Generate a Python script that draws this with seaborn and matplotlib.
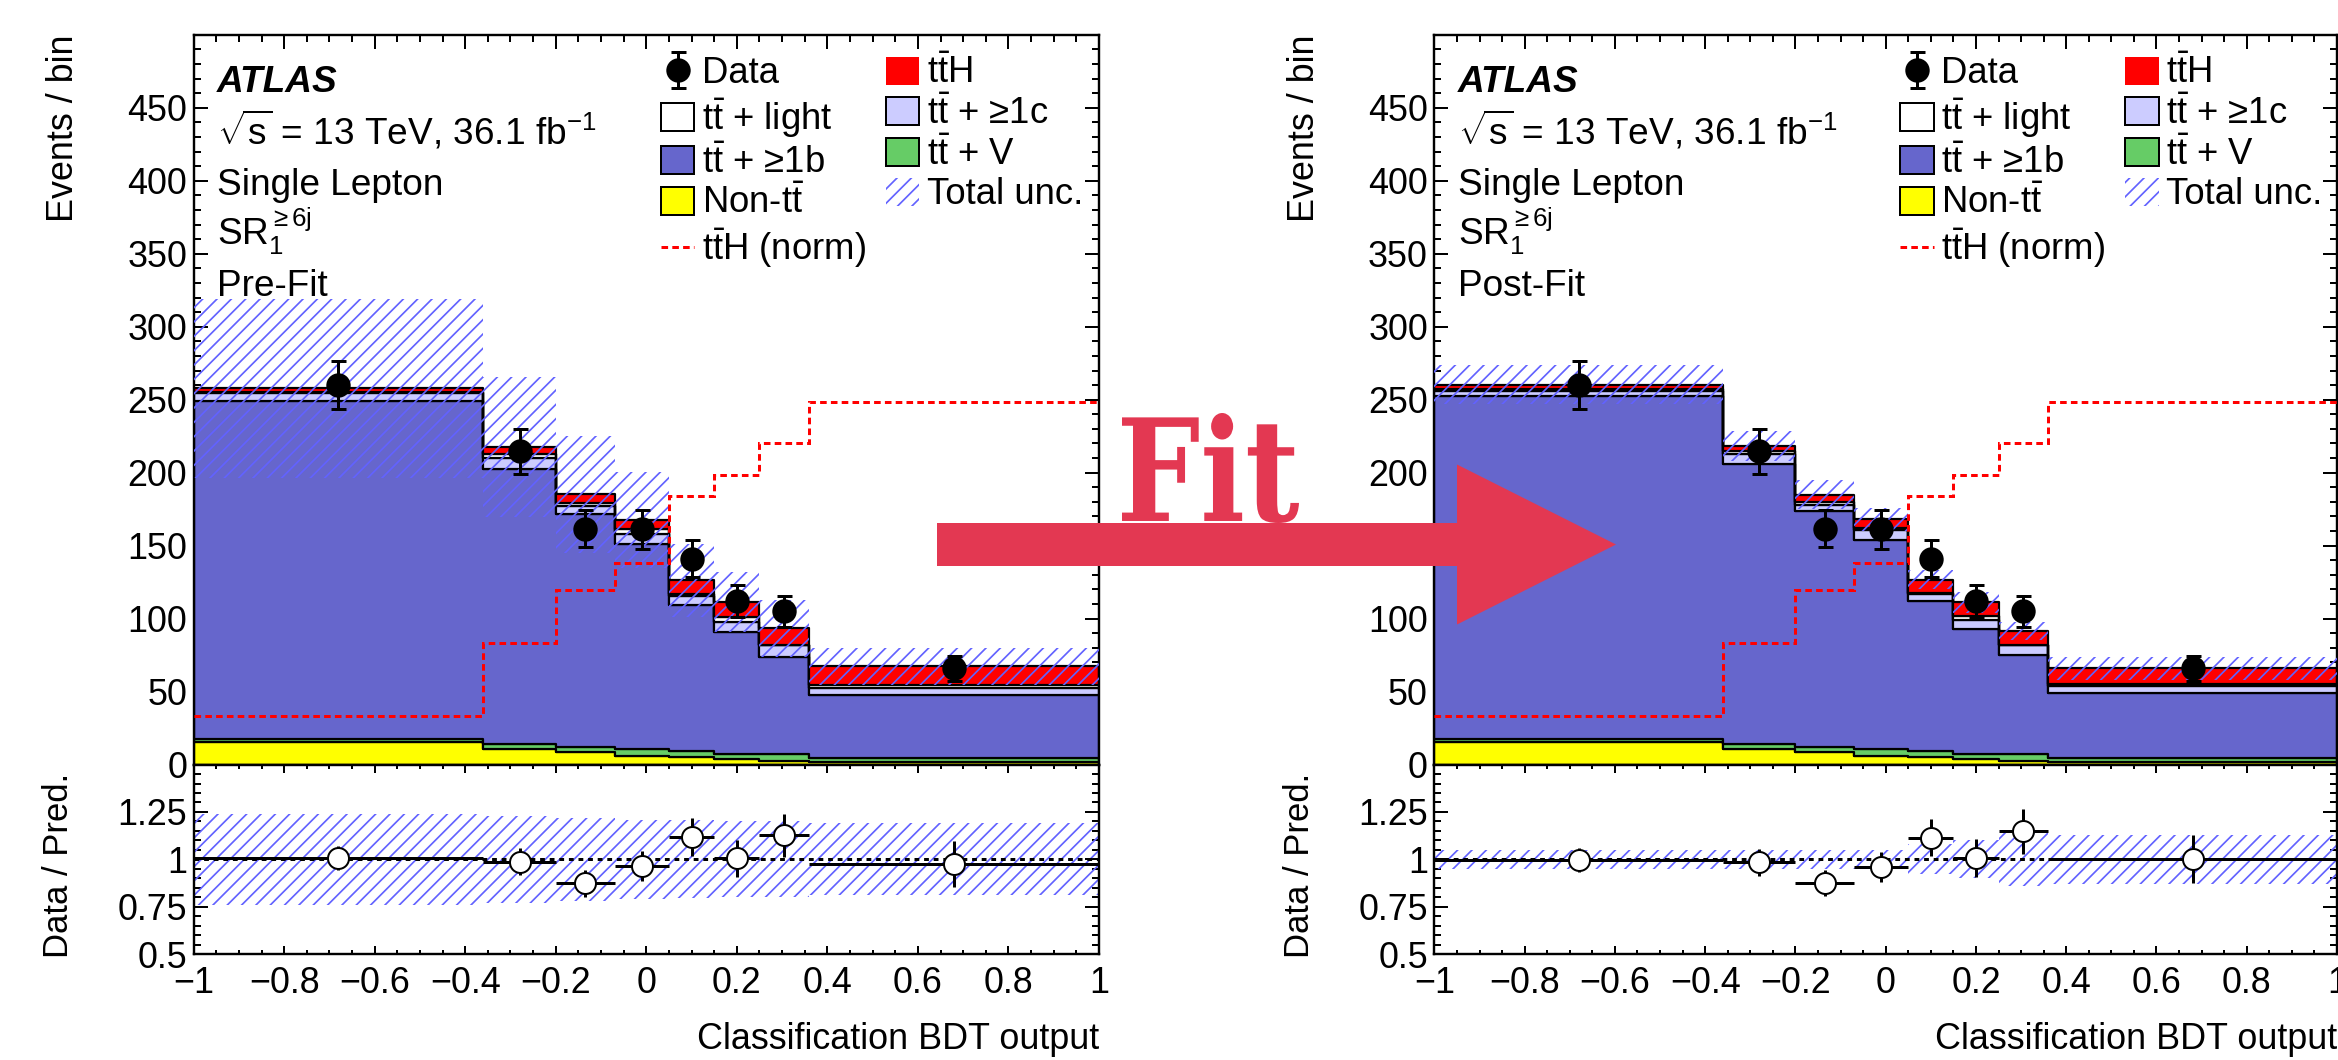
import numpy as np
import pandas as pd
import matplotlib
matplotlib.use("Agg")
import matplotlib.pyplot as plt
import seaborn as sns
from matplotlib.patches import Patch, FancyArrow, PathPatch
from matplotlib.lines import Line2D
from matplotlib.textpath import TextPath
from matplotlib.font_manager import FontProperties
from matplotlib.transforms import Affine2D
from matplotlib.ticker import MultipleLocator

# ---- binning (Classification BDT output) ----
bin_edges = [-1, -0.36, -0.2, -0.07, 0.05, 0.15, 0.25, 0.36, 1]

# ---- data (same in both panels) ----
data = [259.8, 214.8, 161.7, 161.2, 141.2, 112.0, 105.1, 65.9]
data_err = [16.5, 15.4, 12.9, 13.2, 12.4, 11.0, 10.7, 8.3]
tth_norm = [33.5, 83.4, 119.5, 138.4, 183.8, 198.6, 220.3, 248.1]

# ---- pre-fit yields ----
pre_nontt = [15.5, 10.9, 8.8, 6.1, 5.2, 3.6, 2.5, 1.8]
pre_ttv = [2.2, 3.4, 3.5, 4.6, 4.1, 3.9, 4.5, 2.9]
pre_tt1b = [231.1, 188.0, 159.2, 140.3, 99.9, 83.5, 66.4, 42.9]
pre_tt1c = [5.9, 8.0, 5.5, 7.3, 6.2, 6.8, 8.2, 5.0]
pre_ttlight = [0.9, 2.7, 2.0, 2.9, 1.3, 3.4, 0.4, 1.7]
pre_tth = [2.1, 4.5, 6.2, 6.2, 9.6, 10.3, 11.3, 13.2]
pre_unc = [61.5, 48.0, 40.0, 33.0, 25.0, 20.5, 19.8, 12.7]
pre_ratio_unc = [0.24, 0.23, 0.22, 0.21, 0.205, 0.20, 0.20, 0.19]

# ---- post-fit yields ----
post_nontt = [15.5, 10.9, 8.8, 6.1, 5.2, 3.6, 2.5, 1.8]
post_ttv = [2.2, 3.4, 3.5, 4.6, 4.1, 3.9, 4.5, 2.9]
post_tt1b = [235.0, 191.9, 161.2, 143.0, 102.9, 85.7, 68.0, 44.1]
post_tt1c = [3.3, 6.3, 4.6, 6.8, 5.0, 5.7, 6.6, 5.0]
post_ttlight = [1.3, 2.3, 1.8, 1.9, 0.7, 3.0, 0.5, 1.1]
post_tth = [3.1, 3.4, 5.1, 5.6, 8.9, 9.2, 9.5, 11.0]
post_unc = [13.6, 10.3, 9.7, 8.0, 6.8, 7.2, 6.2, 7.9]
post_ratio_unc = [0.05, 0.05, 0.05, 0.05, 0.08, 0.10, 0.14, 0.13]

xtick_vals = [-1, -0.8, -0.6, -0.4, -0.2, 0, 0.2, 0.4, 0.6, 0.8, 1]
xtick_labels = ["\u22121", "\u22120.8", "\u22120.6", "\u22120.4", "\u22120.2", "0",
                "0.2", "0.4", "0.6", "0.8", "1"]
ytick_vals = [0, 50, 100, 150, 200, 250, 300, 350, 400, 450]
rtick_vals = [0.5, 0.75, 1, 1.25]
rtick_labels = ["0.5", "0.75", "1", "1.25"]

TTH = r"$\mathrm{t\bar{t}H}$"
TT = r"$\mathrm{t\bar{t}}$"
names = {
    "tth": TTH,
    "light": TT + " + light",
    "tt1c": TT + " + \u22651c",
    "tt1b": TT + " + \u22651b",
    "ttv": TT + " + V",
    "nontt": r"Non-$\mathrm{t\bar{t}}$",
}
colors = {
    names["tth"]: "#ff0000",
    names["light"]: "#ffffff",
    names["tt1c"]: "#ccccff",
    names["tt1b"]: "#6666cc",
    names["ttv"]: "#66cc66",
    names["nontt"]: "#ffff00",
}
stack_order = [names[k] for k in ["tth", "light", "tt1c", "tt1b", "ttv", "nontt"]]
HATCH = "#6262ff"
ARROW = "#e33852"

DPI = 172
W, H = 2338, 1060


def pt(px):
    return px * 72 / DPI


sns.set_style("ticks", rc={"axes.edgecolor": "black", "text.color": "black",
                           "xtick.color": "black", "ytick.color": "black",
                           "axes.labelcolor": "black"})
plt.rcParams["font.family"] = ["Liberation Sans", "DejaVu Sans"]
plt.rcParams["mathtext.fontset"] = "custom"
plt.rcParams["mathtext.rm"] = "Liberation Sans"
plt.rcParams["mathtext.it"] = "Liberation Sans:italic"
plt.rcParams["mathtext.bf"] = "Liberation Sans:bold"
plt.rcParams["hatch.linewidth"] = pt(1.7)
plt.rcParams["hatch.color"] = HATCH

fig = plt.figure(figsize=(W / DPI, H / DPI), dpi=DPI, facecolor="white")

edges = np.array(bin_edges)
centers = (edges[:-1] + edges[1:]) / 2
halfw = (edges[1:] - edges[:-1]) / 2


def draw_panel(left_px, right_px, comp, unc, ratio_unc, stage):
    x0 = left_px / W
    wd = (right_px - left_px) / W
    ax = fig.add_axes([x0, 1 - 764.6 / H, wd, (764.6 - 34.8) / H])
    rax = fig.add_axes([x0, 1 - 954 / H, wd, (954 - 764.6) / H])

    rows = []
    for key, vals in comp.items():
        for c, v in zip(centers, vals):
            rows.append({"x": c, "w": v, "process": names[key]})
    df = pd.DataFrame(rows)
    sns.histplot(data=df, x="x", weights="w", hue="process", hue_order=stack_order,
                 palette=colors, bins=bin_edges, multiple="stack", element="step",
                 fill=True, alpha=1, edgecolor="black", linewidth=pt(2.2),
                 legend=False, ax=ax)

    total = np.sum([np.array(v) for v in comp.values()], axis=0)
    unc = np.array(unc)
    ax.stairs(total + unc, bin_edges, baseline=total - unc, fill=True,
              facecolor="none", edgecolor=HATCH, hatch="////", linewidth=0,
              zorder=3)
    ax.stairs(tth_norm, bin_edges, baseline=None, color="red",
              linestyle=(0, (2.2, 1.4)), linewidth=pt(3), zorder=4)
    dat = ax.errorbar(centers, data, yerr=data_err, fmt="o", color="black",
                      ms=pt(22), elinewidth=pt(3), capsize=pt(7.5),
                      capthick=pt(3), zorder=6)

    ratio = np.array(data) / total
    rerr = np.array(data_err) / total
    rband = np.array(ratio_unc)
    rax.stairs(1 + rband, bin_edges, baseline=1 - rband, fill=True,
               facecolor="none", edgecolor=HATCH, hatch="////", linewidth=0, zorder=2)
    rax.axhline(1, color="black", linestyle=(0, (1.6, 1.6)), linewidth=pt(3), zorder=3)
    rax.errorbar(centers, ratio, xerr=halfw, yerr=rerr, fmt="o", mfc="white",
                 mec="black", ecolor="black", ms=pt(21), mew=pt(2),
                 elinewidth=pt(3), capsize=0, zorder=5)

    # axes cosmetics
    for a in (ax, rax):
        a.set_xlim(-1, 1)
        a.set_xticks(xtick_vals)
        a.xaxis.set_minor_locator(MultipleLocator(0.05))
        a.tick_params(which="both", direction="in", top=True, right=True,
                      width=pt(2), labelsize=15)
        for s in a.spines.values():
            s.set_linewidth(pt(2.4))
            s.set_color("black")
    ax.set_ylim(0, 500)
    ax.set_yticks(ytick_vals)
    ax.yaxis.set_minor_locator(MultipleLocator(10))
    ax.tick_params(which="major", length=pt(14), pad=pt(6.5))
    ax.tick_params(which="minor", length=pt(7))
    ax.tick_params(axis="x", labelbottom=False)
    ax.set_xlabel("")
    ax.set_ylabel("Events / bin", fontsize=15, loc="top")
    ax.yaxis.set_label_coords(-0.124, 1.0)

    rax.set_ylim(0.5, 1.5)
    rax.set_yticks(rtick_vals)
    rax.set_yticklabels(rtick_labels)
    rax.yaxis.set_minor_locator(MultipleLocator(0.05))
    rax.set_xticklabels(xtick_labels)
    rax.tick_params(axis="y", which="major", length=pt(14), pad=pt(6.5))
    rax.tick_params(axis="y", which="minor", length=pt(7))
    rax.tick_params(axis="x", which="major", length=pt(8), pad=pt(12))
    rax.tick_params(axis="x", which="minor", length=pt(4))
    rax.set_ylabel("Data / Pred.", fontsize=14.5)
    rax.yaxis.set_label_coords(-0.131, 0.47)
    rax.set_xlabel("Classification BDT output", fontsize=15, loc="right")
    rax.xaxis.set_label_coords(1.0, -0.36)

    # legend
    handles = [
        dat,
        Patch(facecolor=colors[names["light"]], edgecolor="black", lw=pt(2)),
        Patch(facecolor=colors[names["tt1b"]], edgecolor="black", lw=pt(2)),
        Patch(facecolor=colors[names["nontt"]], edgecolor="black", lw=pt(2)),
        Line2D([], [], color="red", linestyle=(0, (2.2, 1.4)), lw=pt(3)),
        Patch(facecolor=colors[names["tth"]], edgecolor="none"),
        Patch(facecolor=colors[names["tt1c"]], edgecolor="black", lw=pt(2)),
        Patch(facecolor=colors[names["ttv"]], edgecolor="black", lw=pt(2)),
        Patch(facecolor="none", edgecolor=HATCH, hatch="////", lw=0),
    ]
    labels = ["Data", names["light"], names["tt1b"], names["nontt"],
              TTH + " (norm)", names["tth"], names["tt1c"], names["ttv"],
              "Total unc."]
    ax.legend(handles, labels, ncol=2, loc="upper left",
              bbox_to_anchor=(0.516, 0.972), frameon=False, fontsize=15.3,
              handlelength=0.92, handleheight=0.8, handletextpad=0.2,
              columnspacing=0.55, labelspacing=0.13, borderpad=0,
              borderaxespad=0)

    # ATLAS label block
    tx = 0.026
    ax.text(tx, 0.9216, "ATLAS", transform=ax.transAxes, fontsize=15.5,
            fontweight="bold", fontstyle="italic", va="baseline")
    ax.text(tx, 0.850, r"$\sqrt{\mathrm{s}}$ = 13 TeV, 36.1 fb$^{-1}$",
            transform=ax.transAxes, fontsize=15.5, va="baseline")
    ax.text(tx, 0.7805, "Single Lepton", transform=ax.transAxes, fontsize=15.5,
            va="baseline")
    ax.text(tx, 0.7122, r"SR$_{1}^{\mathrm{\geq6j}}$", transform=ax.transAxes,
            fontsize=15.5, va="baseline")
    ax.text(tx, 0.642, stage, transform=ax.transAxes, fontsize=15.5, va="baseline")
    return ax, rax


pre = {"tth": pre_tth, "light": pre_ttlight, "tt1c": pre_tt1c, "tt1b": pre_tt1b,
       "ttv": pre_ttv, "nontt": pre_nontt}
post = {"tth": post_tth, "light": post_ttlight, "tt1c": post_tt1c, "tt1b": post_tt1b,
        "ttv": post_ttv, "nontt": post_nontt}

draw_panel(193.6, 1099, pre, pre_unc, pre_ratio_unc, "Pre-Fit")
draw_panel(1434.4, 2337, post, post_unc, post_ratio_unc, "Post-Fit")

# the "Fit" arrow between the two panels
arrow = FancyArrow(937 / W, 1 - 544.5 / H, (1616 - 937) / W, 0, width=43 / H,
                   head_width=160 / H, head_length=159 / W,
                   length_includes_head=True, color=ARROW, lw=0,
                   transform=fig.transFigure, zorder=20)
fig.add_artist(arrow)

fp = FontProperties(family="DejaVu Serif", weight="bold")
tp = TextPath((0, 0), "Fit", size=100, prop=fp)
bb = tp.get_extents()
sx = (1299 - 1122) / bb.width
sy = (523 - 413) / bb.height
tr = (Affine2D().translate(-bb.x0, -bb.y0).scale(sx / W, sy / H)
      .translate(1122 / W, (H - 523) / H) + fig.transFigure)
fig.add_artist(PathPatch(tp, facecolor=ARROW, edgecolor="none", transform=tr,
                         zorder=21))

fig.savefig("out.png", dpi=DPI, facecolor="white")
